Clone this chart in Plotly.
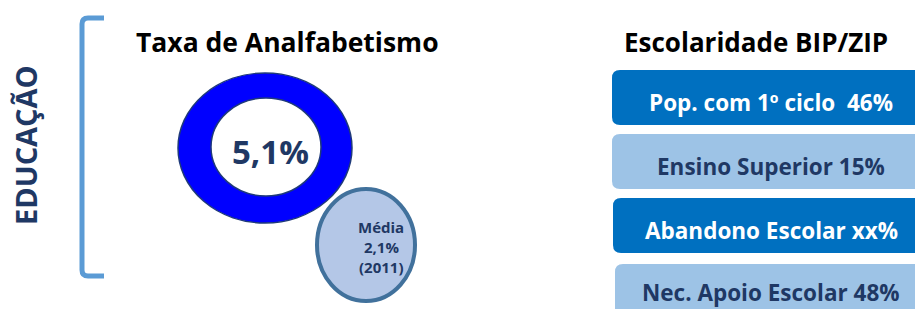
import plotly.graph_objects as go

# ---- data ----
section_label = "EDUCAÇÃO"
left_title = "Taxa de Analfabetismo"
rate_value = "5,1%"
avg_lines = ["Média", "2,1%", "(2011)"]
right_title = "Escolaridade BIP/ZIP"
indicator_names = ["Pop. com 1º ciclo ", "Ensino Superior", "Abandono Escolar", "Nec. Apoio Escolar"]
indicator_values = ["46%", "15%", "xx%", "48%"]

# ---- style ----
NAVY = "#1F3864"
DARK_BOX = "#0070C0"
LIGHT_BOX = "#9DC3E6"
FONT = "Open Sans"

fig = go.Figure()
shapes = []
ann = []

def rrect(x0, y0, x1, y1, r):
    return (f"M{x0+r},{y0} L{x1-r},{y0} Q{x1},{y0} {x1},{y0+r} L{x1},{y1-r} Q{x1},{y1} {x1-r},{y1} "
            f"L{x0+r},{y1} Q{x0},{y1} {x0},{y1-r} L{x0},{y0+r} Q{x0},{y0} {x0+r},{y0} Z")

# bracket
shapes.append(dict(type="path", path="M104,18 L88,18 Q82,18 82,24 L82,270 Q82,276 88,276 L104,276",
                   line=dict(color="#5B9BD5", width=5), fillcolor="rgba(0,0,0,0)"))
ann.append(dict(x=25, y=145, text=f"<b>{section_label}</b>", textangle=-90, showarrow=False,
                font=dict(family=FONT, size=29, color=NAVY), xanchor="center", yanchor="middle"))

# left title
ann.append(dict(x=287, y=42, text=f"<b>{left_title}</b>", showarrow=False,
                font=dict(family=FONT, size=26.5, color="black"), xanchor="center", yanchor="middle"))

# donut
shapes.append(dict(type="circle", x0=178, x1=352, y0=73, y1=223, fillcolor="#0000FF",
                   line=dict(color="#1F3A7A", width=1.5)))
shapes.append(dict(type="circle", x0=211, x1=321, y0=98, y1=196, fillcolor="white",
                   line=dict(color="#1F3A7A", width=1.5)))
ann.append(dict(x=270, y=151, text=f"<b>{rate_value}</b>", showarrow=False,
                font=dict(family=FONT, size=33, color=NAVY), xanchor="center", yanchor="middle"))

# average circle
shapes.append(dict(type="circle", x0=317, x1=415, y0=189, y1=301, fillcolor="#B4C7E7",
                   line=dict(color="#41719C", width=4)))
for i, t in enumerate(avg_lines):
    ann.append(dict(x=381, y=227 + 20 * i, text=f"<b>{t}</b>", showarrow=False,
                    font=dict(family=FONT, size=15, color=NAVY), xanchor="center", yanchor="middle"))

# right title
ann.append(dict(x=756, y=42, text=f"<b>{right_title}</b>", showarrow=False,
                font=dict(family=FONT, size=26, color="black"), xanchor="center", yanchor="middle"))

box_tops = [70, 134, 198, 264]
box_lefts = [612, 612, 613, 615]
for i, (name, val) in enumerate(zip(indicator_names, indicator_values)):
    dark = i % 2 == 0
    y0 = box_tops[i]
    shapes.append(dict(type="path", path=rrect(box_lefts[i], y0, 935, y0 + 55, 8),
                       fillcolor=DARK_BOX if dark else LIGHT_BOX, line=dict(width=0)))
    ann.append(dict(x=771, y=y0 + 32 if i < 3 else y0 + 28, text=f"<b>{name} {val}</b>", showarrow=False,
                    font=dict(family=FONT, size=22.5, color="white" if dark else NAVY),
                    xanchor="center", yanchor="middle"))

fig.update_layout(
    width=915, height=309, margin=dict(l=0, r=0, t=0, b=0),
    paper_bgcolor="white", plot_bgcolor="white",
    xaxis=dict(range=[0, 915], visible=False, fixedrange=True),
    yaxis=dict(range=[309, 0], visible=False, fixedrange=True),
    shapes=shapes, annotations=ann, showlegend=False,
)
fig.write_html("out.html", config={"displayModeBar": False},
               post_script="document.body.style.margin='0';document.body.style.overflow='hidden';")
